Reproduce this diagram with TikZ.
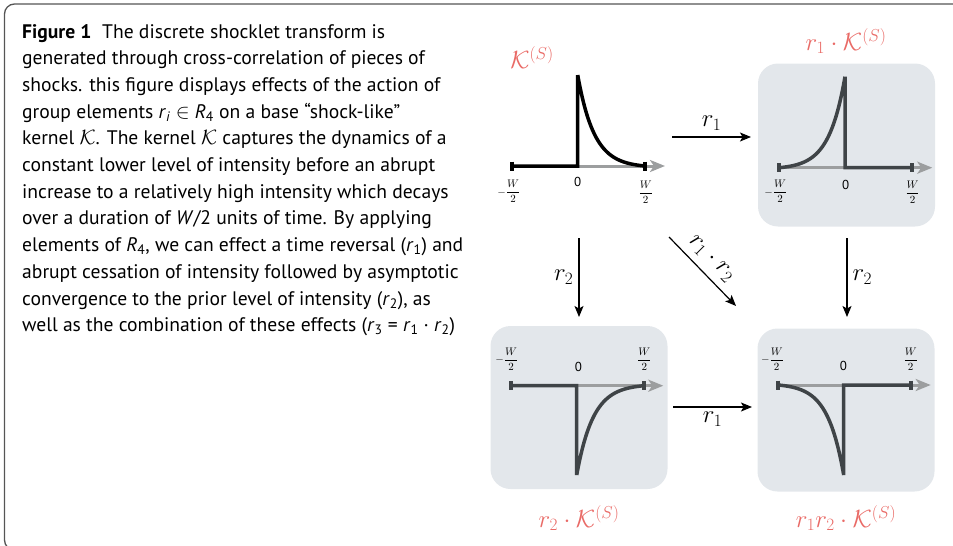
\documentclass[tikz,border=0pt]{standalone}
\usepackage{fontspec}
\setmainfont{PT Sans}
\usetikzlibrary{arrows.meta}
\definecolor{redk}{HTML}{E96A66}
\definecolor{boxg}{HTML}{E3E7EB}
\definecolor{darkl}{HTML}{3F4447}
\definecolor{axisg}{HTML}{9C9E9F}
\definecolor{frameg}{HTML}{555555}
\newcommand\myr[1]{\textit{r}\textsubscript{#1}}
\newcommand\mfrac{\displaystyle\frac{W}{2}}
\newcommand\mnfrac{\displaystyle\llap{$-$}\frac{W}{2}}
\begin{document}
\begin{tikzpicture}[x=1pt,y=-1pt,
  declare function={g(\s)=(exp(-4.1*\s)-0.01657)/0.98343;},
  txtline/.style={anchor=base west, inner sep=0pt, font=\fontsize{19.6}{24}\selectfont},
  panelbox/.style={fill=boxg, rounded corners=20pt, draw=none, minimum width=177pt, minimum height=163pt, inner sep=0pt},
  axisarrow/.style={draw=axisg, line width=3pt, -{Stealth[length=15pt,width=12pt,inset=4pt]}},
  curveline/.style={line width=3.5pt, draw=darkl, line join=miter},
  tickmark/.style={line width=4pt, draw=darkl},
  zerolbl/.style={inner sep=0pt, font=\fontsize{13}{15}\selectfont},
  fraclbl/.style={inner sep=0pt, font=\fontsize{11}{13}\selectfont},
  title/.style={inner sep=0pt, text=redk, font=\fontsize{24}{28}\selectfont},
  arrlbl/.style={inner sep=0pt, font=\fontsize{24}{28}\selectfont},
  conn/.style={draw=black, line width=1.2pt, -{Stealth[length=11pt,width=9pt,inset=2.5pt]}}
]
\useasboundingbox (0,0) rectangle (953,546);
% outer frame
\draw[frameg, line width=1.3pt, rounded corners=10pt] (4.5,4) rectangle (990,550);

% caption text
\node[txtline] (t1) at (22,38) {\textbf{Figure 1}\hspace{0.55em}The discrete shocklet transform is};
\node[txtline] (t2) at (22,64.7) {generated through cross-correlation of pieces of};
\node[txtline] (t3) at (22,91.4) {shocks. this figure displays effects of the action of};
\node[txtline] (t4) at (22,118.1) {group elements \myr{\textit{i}} $\in$ \textit{R}\textsubscript{4} on a base “shock-like”};
\node[txtline] (t5) at (22,144.8) {kernel $\mathcal{K}$. The kernel $\mathcal{K}$ captures the dynamics of a};
\node[txtline] (t6) at (22,171.5) {constant lower level of intensity before an abrupt};
\node[txtline] (t7) at (22,198.2) {increase to a relatively high intensity which decays};
\node[txtline] (t8) at (22,224.9) {over a duration of \textit{W}/2 units of time. By applying};
\node[txtline] (t9) at (22,251.6) {elements of \textit{R}\textsubscript{4}, we can effect a time reversal (\myr{1}) and};
\node[txtline] (t10) at (22,278.3) {abrupt cessation of intensity followed by asymptotic};
\node[txtline] (t11) at (22,305) {convergence to the prior level of intensity (\myr{2}), as};
\node[txtline] (t12) at (22,331.7) {well as the combination of these effects (\myr{3} = \myr{1} · \myr{2})};

% panel boxes
\node[panelbox] (box2) at (846.5,145) {};
\node[panelbox] (box3) at (579,407.5) {};
\node[panelbox] (box4) at (846,410) {};

% panel 1 (base kernel)
\draw[axisarrow] (512.3,166) -- (665,166);
\draw[curveline, draw=black] (512.3,166) -- (577.7,166) -- (577.7,75) -- plot[domain=0:1, samples=60] ({577.7+67.3*\x},{166-91*g(\x)});
\draw[tickmark, draw=black] (512.3,161.5) -- (512.3,170.5);
\draw[tickmark, draw=black] (645,161.5) -- (645,170.5);
\node[zerolbl] (z1) at (577.7,182) {0};
\node[fraclbl] (l1) at (513,191.5) {$\mnfrac$};
\node[fraclbl] (r1) at (645.7,192) {$\mfrac$};
\node[title] (k1) at (532,58) {$\mathcal{K}^{(S)}$};

% panel 2 (r1)
\draw[axisarrow] (779.3,167.7) -- (932.3,167.7);
\draw[curveline] (912.3,167.7) -- (845,167.7) -- (845,76.7) -- plot[domain=0:1, samples=60] ({845-65.7*\x},{167.7-91*g(\x)});
\draw[tickmark] (779.3,163.2) -- (779.3,172.2);
\draw[tickmark] (912.3,163.2) -- (912.3,172.2);
\node[zerolbl] (z2) at (845.7,185) {0};
\node[fraclbl] (l2) at (780,191.7) {$\mnfrac$};
\node[fraclbl] (r2) at (912.5,192.5) {$\mfrac$};
\node[title] (k2) at (846,41) {$r_1\cdot\mathcal{K}^{(S)}$};

% panel 3 (r2)
\draw[axisarrow] (511,385.7) -- (663.3,385.7);
\draw[curveline] (511,385.7) -- (576.7,385.7) -- (576.7,475) -- plot[domain=0:1, samples=60] ({576.7+67.3*\x},{385.7+89.3*g(\x)});
\draw[tickmark] (511,381.2) -- (511,390.2);
\draw[tickmark] (644,381.2) -- (644,390.2);
\node[zerolbl] (z3) at (578.3,367) {0};
\node[fraclbl] (l3) at (511,359.3) {$\mnfrac$};
\node[fraclbl] (r3) at (644.3,359.3) {$\mfrac$};
\node[title] (k3) at (579,518) {$r_2\cdot\mathcal{K}^{(S)}$};

% panel 4 (r1 r2)
\draw[axisarrow] (778.3,385) -- (930.7,385);
\draw[curveline] (911,385) -- (843.7,385) -- (843.7,475) -- plot[domain=0:1, samples=60] ({843.7-65.4*\x},{385+90*g(\x)});
\draw[tickmark] (778.3,380.5) -- (778.3,389.5);
\draw[tickmark] (911,380.5) -- (911,389.5);
\node[zerolbl] (z4) at (843.3,365.5) {0};
\node[fraclbl] (l4) at (776.7,359.3) {$\mnfrac$};
\node[fraclbl] (r4) at (910.7,359.3) {$\mfrac$};
\node[title] (k4) at (846,518) {$r_1r_2\cdot\mathcal{K}^{(S)}$};

% connectors
\coordinate (aTs) at (672,137);
\coordinate (aTe) at (751,137);
\coordinate (aBs) at (673,407);
\coordinate (aBe) at (752,407);
\coordinate (aLs) at (579,238);
\coordinate (aLe) at (579,317);
\coordinate (aRs) at (847,238);
\coordinate (aRe) at (847,317);
\coordinate (aDs) at (669,237);
\coordinate (aDe) at (736,306);
\draw[conn] (aTs) -- (aTe) node[arrlbl, midway, above=6pt] (lt) {$r_1$};
\draw[conn] (aBs) -- (aBe) node[arrlbl, midway, below=4pt] (lb) {$r_1$};
\draw[conn] (aLs) -- (aLe) node[arrlbl, midway, left=5pt] (ll) {$r_2$};
\draw[conn] (aRs) -- (aRe) node[arrlbl, midway, right=5pt] (lr) {$r_2$};
\draw[conn] (aDs) -- (aDe);
\node[arrlbl, rotate=-45] (ld) at (711,259) {$r_1\cdot r_2$};
\end{tikzpicture}
\end{document}
